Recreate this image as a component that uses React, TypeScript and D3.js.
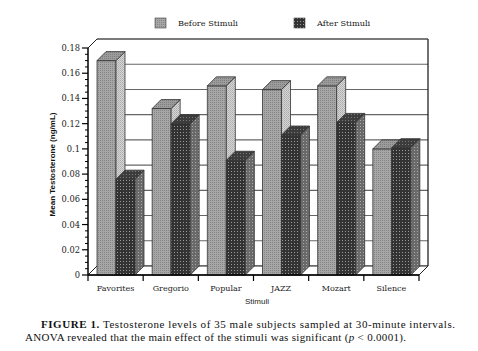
import React from "react";
import * as d3 from "d3";

const categories = ["Favorites", "Gregorio", "Popular", "JAZZ", "Mozart", "Silence"];
const beforeValues = [0.17, 0.132, 0.15, 0.147, 0.15, 0.1];
const afterValues = [0.076, 0.12, 0.091, 0.111, 0.121, 0.101];
const majorTicks = [0, 0.02, 0.04, 0.06, 0.08, 0.1, 0.12, 0.14, 0.16, 0.18];
const tickLabels = ["0", "0.02", "0.04", "0.06", "0.08", "0.1", "0.12", "0.14", "0.16", "0.18"];
const seriesNames = ["Before Stimuli", "After Stimuli"];

const W = 478;
const H = 351;
const margin = { top: 48, right: 59, bottom: 76, left: 88 };
const depth = 9;
const barW = 19;

const serif = "'DejaVu Serif', serif";
const sans = "'Liberation Sans', Arial, sans-serif";
const times = "'Liberation Serif', 'Times New Roman', serif";

function Bar({ x, y0, y1, front, side, top }: any) {
  const h = y0 - y1;
  return (
    <g stroke="#333" strokeWidth={0.8} strokeLinejoin="round">
      <rect x={x} y={y1} width={barW} height={h} fill={front} />
      <polygon
        points={`${x + barW},${y1} ${x + barW + depth},${y1 - depth} ${x + barW + depth},${y0 - depth} ${x + barW},${y0}`}
        fill={side}
      />
      <polygon
        points={`${x},${y1} ${x + depth},${y1 - depth} ${x + barW + depth},${y1 - depth} ${x + barW},${y1}`}
        fill={top}
      />
    </g>
  );
}

export default function App() {
  const x = d3
    .scaleBand<string>()
    .domain(categories)
    .range([margin.left, W - margin.right]);
  const y = d3
    .scaleLinear()
    .domain([0, 0.18])
    .range([H - margin.bottom, margin.top]);

  const y0 = y(0);
  const xL = margin.left;
  const xR = W - margin.right;
  const minorTicks = d3.range(0, 0.1801, 0.005).filter((v) => Math.abs(v / 0.02 - Math.round(v / 0.02)) > 0.01);

  return (
    <svg width={W} height={H} style={{ position: "absolute", left: 0, top: 0, background: "#fff" }}>
      <defs>
        <pattern id="bFront" width="2" height="2" patternUnits="userSpaceOnUse">
          <rect width="2" height="2" fill="#a6a6a6" />
          <rect width="1" height="1" fill="#868686" />
        </pattern>
        <pattern id="bSide" width="2" height="2" patternUnits="userSpaceOnUse">
          <rect width="2" height="2" fill="#d6d6d6" />
          <rect width="1" height="1" fill="#ababab" />
          <rect x="1" y="1" width="1" height="1" fill="#b8b8b8" />
        </pattern>
        <pattern id="bTop" width="2" height="2" patternUnits="userSpaceOnUse">
          <rect width="2" height="2" fill="#9c9c9c" />
          <rect width="1" height="1" fill="#7e7e7e" />
        </pattern>
        <pattern id="aFront" width="3" height="3" patternUnits="userSpaceOnUse">
          <rect width="3" height="3" fill="#333" />
          <rect width="1" height="1" fill="#9a9a9a" />
        </pattern>
        <pattern id="aSide" width="3" height="3" patternUnits="userSpaceOnUse">
          <rect width="3" height="3" fill="#6a6a6a" />
          <rect width="1" height="1" fill="#a8a8a8" />
        </pattern>
        <pattern id="aTop" width="3" height="3" patternUnits="userSpaceOnUse">
          <rect width="3" height="3" fill="#3c3c3c" />
          <rect width="1" height="1" fill="#7a7a7a" />
        </pattern>
      </defs>

      {/* back wall + grid */}
      <rect x={xL + depth} y={y(0.18) - depth} width={xR - xL} height={y0 - y(0.18)} fill="#fff" />
      {majorTicks.map((v) => (
        <line key={v} x1={xL + depth} x2={xR + depth} y1={y(v) - depth} y2={y(v) - depth} stroke="#666" strokeWidth={1.1} />
      ))}
      <line x1={xR + depth} x2={xR + depth} y1={y(0.18) - depth} y2={y0 - depth} stroke="#111" strokeWidth={1.2} />
      <line x1={xL} y1={y(0.18)} x2={xL + depth} y2={y(0.18) - depth} stroke="#222" strokeWidth={1} />
      <line x1={xL + depth} x2={xR + depth} y1={y(0.18) - depth} y2={y(0.18) - depth} stroke="#444" strokeWidth={1.1} />

      {/* floor */}
      <polygon
        points={`${xL},${y0} ${xR},${y0} ${xR + depth},${y0 - depth} ${xL + depth},${y0 - depth}`}
        fill="#fff"
        stroke="#222"
        strokeWidth={1}
      />

      {/* bars */}
      {categories.map((c, i) => (
        <g key={c}>
          <Bar x={x(c)! + depth} y0={y0} y1={y(beforeValues[i])} front="url(#bFront)" side="url(#bSide)" top="url(#bTop)" />
          <Bar x={x(c)! + depth + barW} y0={y0} y1={y(afterValues[i])} front="url(#aFront)" side="url(#aSide)" top="url(#aTop)" />
        </g>
      ))}

      {/* y axis */}
      <line x1={xL} x2={xL} y1={y(0.18)} y2={y0} stroke="#000" strokeWidth={1.5} />
      {minorTicks.map((v) => (
        <line key={v} x1={xL - 3} x2={xL} y1={y(v)} y2={y(v)} stroke="#000" strokeWidth={1} />
      ))}
      {majorTicks.map((v, i) => (
        <g key={v}>
          <line x1={xL - 6} x2={xL} y1={y(v)} y2={y(v)} stroke="#000" strokeWidth={1.2} />
          <text x={xL - 8} y={y(v) + 3} textAnchor="end" fontFamily={serif} fontSize={8.3} fill="#222">
            {tickLabels[i]}
          </text>
        </g>
      ))}
      <text
        transform={`translate(55, ${(y(0.18) + y0) / 2 + 3}) rotate(-90)`}
        textAnchor="middle"
        fontFamily={sans}
        fontWeight="bold"
        fontSize={8}
        fill="#111"
      >
        Mean Testosterone (ng/mL)
      </text>

      {/* x axis */}
      <line x1={xL} x2={xR} y1={y0} y2={y0} stroke="#000" strokeWidth={1.5} />
      {[...categories.map((c) => x(c)!), xR].map((v, i) => (
        <line key={i} x1={v} x2={v} y1={y0} y2={y0 + 6} stroke="#000" strokeWidth={1.2} />
      ))}
      {categories.map((c) => (
        <text key={c} x={x(c)! + x.bandwidth() / 2} y={y0 + 16} textAnchor="middle" fontFamily={serif} fontSize={8} fill="#222">
          {c}
        </text>
      ))}
      <text x={257} y={304} textAnchor="middle" fontFamily={sans} fontSize={8} fill="#222">
        Stimuli
      </text>

      {/* legend */}
      {seriesNames.map((s, i) => (
        <g key={s} transform={`translate(${i === 0 ? 155 : 294}, 18)`}>
          <rect width={11} height={10} fill={i === 0 ? "url(#bFront)" : "url(#aFront)"} stroke="#444" strokeWidth={0.6} />
          <text x={23} y={8} fontFamily={serif} fontSize={8.2} fill="#222">
            {s}
          </text>
        </g>
      ))}

      {/* caption */}
      <text x={41} y={328} fontFamily={times} fontSize={11} fill="#111" textLength={414} lengthAdjust="spacing">
        <tspan fontWeight="bold">FIGURE 1.</tspan> Testosterone levels of 35 male subjects sampled at 30-minute intervals.
      </text>
      <text x={25} y={341} fontFamily={times} fontSize={11} fill="#111" textLength={381} lengthAdjust="spacing">
        ANOVA revealed that the main effect of the stimuli was significant (<tspan fontStyle="italic">p</tspan> &lt; 0.0001).
      </text>
    </svg>
  );
}
